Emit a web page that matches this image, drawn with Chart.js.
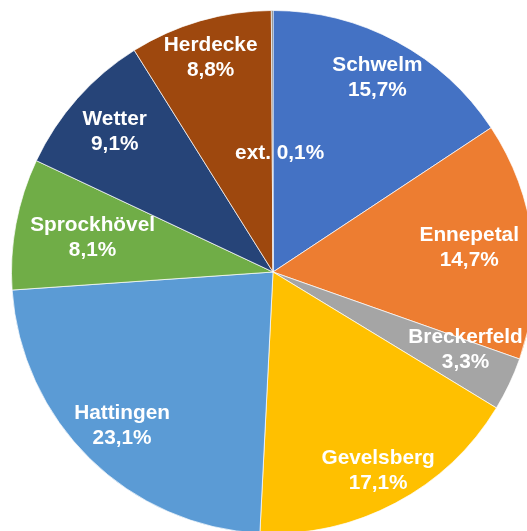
<!DOCTYPE html>
<html>
<head>
<meta charset="utf-8">
<script src="https://cdn.jsdelivr.net/npm/chart.js@4/dist/chart.umd.min.js"></script>
<style>
  html, body { margin:0; padding:0; background:#fff; overflow:hidden; width:527px; height:531px; }
  #wrap { position:absolute; left:11px; top:10px; width:524px; height:524px; }
</style>
</head>
<body>
<div id="wrap"><canvas id="myChart" width="524" height="524"></canvas></div>
<script>
var categories = ["Schwelm","Ennepetal","Breckerfeld","Gevelsberg","Hattingen","Sprockhövel","Wetter","Herdecke","ext."]
var shares = [15.7, 14.7, 3.3, 17.1, 23.1, 8.1, 9.1, 8.8, 0.1]
var colors = ["#4472C4","#ED7D31","#A5A5A5","#FFC000","#5B9BD5","#70AD47","#264478","#9E480E","#636363"]

// label placement like Excel's best fit: fraction of radius, and a small angle nudge (deg)
var labelRadius = [0.843, 0.756, 0.794, 0.859, 0.824, 0.702, 0.809, 0.855, 0.454]
var labelNudge = [0, 0, -3.4, 0, 0, 0, 0, 0, 0]

function fmt(v){ return v.toFixed(1).replace(".", ",") + "%" }

var sliceLabels = {
    id:"sliceLabels",
    afterDatasetsDraw:function(chart){
        var ctx = chart.ctx
        var meta = chart.getDatasetMeta(0)
        ctx.save()
        ctx.fillStyle = "#fff"
        ctx.font = "bold 20.8px 'Liberation Sans', Arial, sans-serif"
        ctx.textAlign = "center"
        ctx.textBaseline = "middle"
        meta.data.forEach(function(arc, i){
            var p = arc.getProps(["x","y","startAngle","endAngle","outerRadius"], true)
            var mid = (p.startAngle + p.endAngle) / 2 + labelNudge[i] * Math.PI / 180
            var r = p.outerRadius * labelRadius[i]
            var x = p.x + Math.cos(mid) * r
            var y = p.y + Math.sin(mid) * r
            if(shares[i] < 1){
                ctx.fillText(categories[i] + " " + fmt(shares[i]), x + 7, y)
            } else {
                ctx.fillText(categories[i], x, y - 12.5)
                ctx.fillText(fmt(shares[i]), x, y + 12.5)
            }
        })
        ctx.restore()
    }
}

var ctx = document.getElementById("myChart").getContext("2d")
new Chart(ctx, {
    type:"pie",
    data:{
        labels:categories,
        datasets:[{
            data:shares,
            backgroundColor:colors,
            borderColor:"rgba(255,255,255,0.7)",
            borderWidth:1
        }]
    },
    options:{
        responsive:false,
        animation:false,
        layout:{ padding:0 },
        plugins:{
            legend:{ display:false },
            tooltip:{ enabled:false }
        }
    },
    plugins:[sliceLabels]
})
</script>
</body>
</html>
